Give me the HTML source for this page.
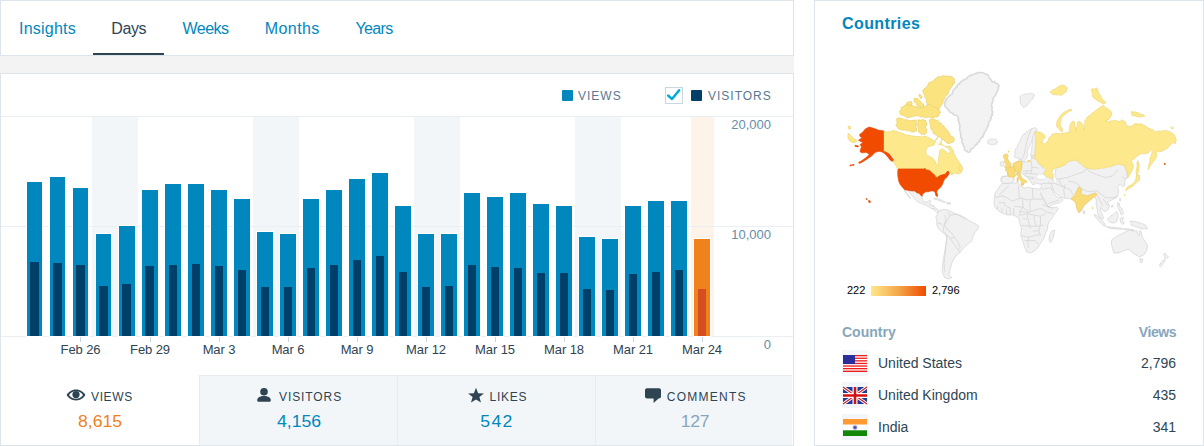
<!DOCTYPE html>
<html><head><meta charset="utf-8"><title>Stats</title>
<style>
*{box-sizing:border-box;margin:0;padding:0}
html,body{width:1204px;height:446px;overflow:hidden;background:#fff}
body{position:relative;font-family:"Liberation Sans",Arial,sans-serif;color:#2e4453}
.a{position:absolute}
.bd{position:absolute;border:1px solid #dde5eb}
.t{position:absolute;white-space:nowrap;line-height:16px}
.tab{font-size:16px;color:#0087be;transform:translateX(-50%)}
.lg{font-size:12px;letter-spacing:1.0px;color:#5a7890}
.xl{font-size:13px;color:#2e4453;letter-spacing:-0.1px;transform:translateX(-50%)}
.yl{font-size:13px;color:#668eaa;text-align:right;right:433px}
.bar{position:absolute;box-shadow:0 0 0 1px #fff}
.in{position:absolute}
.wk{position:absolute;top:117px;height:219px;background:#f3f6f8}
.gl{position:absolute;left:1px;width:792px;height:1px;background:#e9eff3}
.tick{position:absolute;top:337px;width:1px;height:5px;background:#c8d7e1}
.st{position:absolute;top:375px;height:70px;width:198px;background:#f3f6f8;border-left:1px solid #e6ecf0;border-top:1px solid #e6ecf0}
.sl{font-size:12px;letter-spacing:1.7px;color:#2e4453}
.sv{font-size:16px;transform:translateX(-50%) scaleX(1.1)}
.cn{font-size:14px;color:#2e4453}
.cv{font-size:14px;color:#2e4453;text-align:right;right:28px}
</style></head><body>
<div class="bd" style="left:0;top:0;width:794px;height:56px"></div>
<div class="a" style="left:93px;top:53px;width:71px;height:2px;background:#2e4453"></div>
<div class="t tab" style="left:47.51px;top:21px;letter-spacing:0.22px">Insights</div>
<div class="t tab" style="left:128.68px;top:21px;letter-spacing:-0.45px;color:#2e4453">Days</div>
<div class="t tab" style="left:205.55px;top:21px;letter-spacing:-0.5px">Weeks</div>
<div class="t tab" style="left:292.26px;top:21px;letter-spacing:0.42px">Months</div>
<div class="t tab" style="left:374.07px;top:21px;letter-spacing:-0.65px">Years</div>
<div class="a" style="left:0;top:56px;width:794px;height:17px;background:#f3f3f3"></div>
<div class="bd" style="left:0;top:73px;width:794px;height:373px"></div>
<div class="a" style="left:562px;top:90px;width:11px;height:11px;background:#0087be;border-radius:1px"></div>
<div class="t lg" style="left:578px;top:88px">VIEWS</div>
<div class="a" style="left:665px;top:87px;width:18px;height:17px;border:1px solid #c8d7e1;background:#fff"></div>
<svg class="a" style="left:665px;top:87px" width="18" height="17" viewBox="0 0 18 17"><path d="M3.2 8.6 L7 12 L14.2 3.2" fill="none" stroke="#00aadc" stroke-width="2.5" stroke-linecap="round" stroke-linejoin="round"/></svg>
<div class="a" style="left:691px;top:90px;width:11px;height:11px;background:#003f68;border-radius:1px"></div>
<div class="t lg" style="left:708px;top:88px">VISITORS</div>
<div class="wk" style="left:92px;width:23px"></div>
<div class="wk" style="left:115px;width:23px"></div>
<div class="wk" style="left:253px;width:23px"></div>
<div class="wk" style="left:276px;width:23px"></div>
<div class="wk" style="left:414px;width:23px"></div>
<div class="wk" style="left:437px;width:23px"></div>
<div class="wk" style="left:575px;width:23px"></div>
<div class="wk" style="left:598px;width:23px"></div>
<div class="wk" style="left:691px;width:23px;background:#fef3e9"></div>
<div class="gl" style="top:116px"></div>
<div class="gl" style="top:226px"></div>
<div class="gl" style="top:336px"></div>
<div class="bar" style="left:27px;top:182px;width:15px;height:154px;background:#0087be"></div><div class="in" style="left:30px;top:262px;width:9px;height:74px;background:#003f68"></div>
<div class="bar" style="left:50px;top:177px;width:15px;height:159px;background:#0087be"></div><div class="in" style="left:53px;top:263px;width:9px;height:73px;background:#003f68"></div>
<div class="bar" style="left:73px;top:188px;width:15px;height:148px;background:#0087be"></div><div class="in" style="left:76px;top:265px;width:9px;height:71px;background:#003f68"></div>
<div class="bar" style="left:96px;top:234px;width:15px;height:102px;background:#0087be"></div><div class="in" style="left:99px;top:286px;width:9px;height:50px;background:#003f68"></div>
<div class="bar" style="left:119px;top:226px;width:16px;height:110px;background:#0087be"></div><div class="in" style="left:122px;top:284px;width:9px;height:52px;background:#003f68"></div>
<div class="bar" style="left:142px;top:190px;width:16px;height:146px;background:#0087be"></div><div class="in" style="left:145px;top:266px;width:9px;height:70px;background:#003f68"></div>
<div class="bar" style="left:165px;top:184px;width:16px;height:152px;background:#0087be"></div><div class="in" style="left:169px;top:265px;width:8px;height:71px;background:#003f68"></div>
<div class="bar" style="left:188px;top:184px;width:16px;height:152px;background:#0087be"></div><div class="in" style="left:192px;top:264px;width:8px;height:72px;background:#003f68"></div>
<div class="bar" style="left:211px;top:190px;width:16px;height:146px;background:#0087be"></div><div class="in" style="left:215px;top:266px;width:8px;height:70px;background:#003f68"></div>
<div class="bar" style="left:234px;top:199px;width:16px;height:137px;background:#0087be"></div><div class="in" style="left:238px;top:270px;width:8px;height:66px;background:#003f68"></div>
<div class="bar" style="left:257px;top:232px;width:16px;height:104px;background:#0087be"></div><div class="in" style="left:261px;top:287px;width:8px;height:49px;background:#003f68"></div>
<div class="bar" style="left:280px;top:234px;width:16px;height:102px;background:#0087be"></div><div class="in" style="left:284px;top:287px;width:8px;height:49px;background:#003f68"></div>
<div class="bar" style="left:303px;top:199px;width:16px;height:137px;background:#0087be"></div><div class="in" style="left:307px;top:268px;width:8px;height:68px;background:#003f68"></div>
<div class="bar" style="left:326px;top:190px;width:16px;height:146px;background:#0087be"></div><div class="in" style="left:330px;top:265px;width:8px;height:71px;background:#003f68"></div>
<div class="bar" style="left:349px;top:179px;width:16px;height:157px;background:#0087be"></div><div class="in" style="left:353px;top:260px;width:8px;height:76px;background:#003f68"></div>
<div class="bar" style="left:372px;top:173px;width:16px;height:163px;background:#0087be"></div><div class="in" style="left:376px;top:256px;width:8px;height:80px;background:#003f68"></div>
<div class="bar" style="left:395px;top:206px;width:16px;height:130px;background:#0087be"></div><div class="in" style="left:399px;top:272px;width:8px;height:64px;background:#003f68"></div>
<div class="bar" style="left:418px;top:234px;width:16px;height:102px;background:#0087be"></div><div class="in" style="left:422px;top:287px;width:8px;height:49px;background:#003f68"></div>
<div class="bar" style="left:441px;top:234px;width:16px;height:102px;background:#0087be"></div><div class="in" style="left:445px;top:286px;width:8px;height:50px;background:#003f68"></div>
<div class="bar" style="left:464px;top:193px;width:16px;height:143px;background:#0087be"></div><div class="in" style="left:468px;top:265px;width:8px;height:71px;background:#003f68"></div>
<div class="bar" style="left:487px;top:197px;width:16px;height:139px;background:#0087be"></div><div class="in" style="left:491px;top:267px;width:8px;height:69px;background:#003f68"></div>
<div class="bar" style="left:510px;top:193px;width:16px;height:143px;background:#0087be"></div><div class="in" style="left:514px;top:268px;width:8px;height:68px;background:#003f68"></div>
<div class="bar" style="left:533px;top:204px;width:16px;height:132px;background:#0087be"></div><div class="in" style="left:537px;top:273px;width:8px;height:63px;background:#003f68"></div>
<div class="bar" style="left:556px;top:206px;width:16px;height:130px;background:#0087be"></div><div class="in" style="left:560px;top:273px;width:8px;height:63px;background:#003f68"></div>
<div class="bar" style="left:579px;top:237px;width:16px;height:99px;background:#0087be"></div><div class="in" style="left:583px;top:289px;width:8px;height:47px;background:#003f68"></div>
<div class="bar" style="left:602px;top:239px;width:16px;height:97px;background:#0087be"></div><div class="in" style="left:606px;top:290px;width:8px;height:46px;background:#003f68"></div>
<div class="bar" style="left:625px;top:206px;width:16px;height:130px;background:#0087be"></div><div class="in" style="left:629px;top:274px;width:8px;height:62px;background:#003f68"></div>
<div class="bar" style="left:648px;top:201px;width:16px;height:135px;background:#0087be"></div><div class="in" style="left:652px;top:272px;width:8px;height:64px;background:#003f68"></div>
<div class="bar" style="left:671px;top:201px;width:16px;height:135px;background:#0087be"></div><div class="in" style="left:675px;top:270px;width:8px;height:66px;background:#003f68"></div>
<div class="bar" style="left:694px;top:239px;width:16px;height:97px;background:#f0821e"></div><div class="in" style="left:698px;top:289px;width:8px;height:47px;background:#d54e21"></div>
<div class="t yl" style="top:117px">20,000</div>
<div class="t yl" style="top:227px">10,000</div>
<div class="t yl" style="top:337px">0</div>
<div class="tick" style="left:80px"></div><div class="t xl" style="left:80.5px;top:342px">Feb 26</div>
<div class="tick" style="left:150px"></div><div class="t xl" style="left:150px;top:342px">Feb 29</div>
<div class="tick" style="left:219px"></div><div class="t xl" style="left:219px;top:342px">Mar 3</div>
<div class="tick" style="left:288px"></div><div class="t xl" style="left:288px;top:342px">Mar 6</div>
<div class="tick" style="left:357px"></div><div class="t xl" style="left:357px;top:342px">Mar 9</div>
<div class="tick" style="left:426px"></div><div class="t xl" style="left:426px;top:342px">Mar 12</div>
<div class="tick" style="left:495px"></div><div class="t xl" style="left:495px;top:342px">Mar 15</div>
<div class="tick" style="left:564px"></div><div class="t xl" style="left:564px;top:342px">Mar 18</div>
<div class="tick" style="left:633px"></div><div class="t xl" style="left:633px;top:342px">Mar 21</div>
<div class="tick" style="left:702px"></div><div class="t xl" style="left:702px;top:342px">Mar 24</div>
<div class="st" style="left:199px;"></div>
<div class="st" style="left:397px;"></div>
<div class="st" style="left:595px;width:197px"></div>
<div class="t sl" style="left:91px;top:389px;letter-spacing:0.63px">VIEWS</div>
<div class="t sv" style="left:99.75px;top:413.5px;color:#f0821e">8,615</div>
<div class="t sl" style="left:279px;top:389px;letter-spacing:0.91px">VISITORS</div>
<div class="t sv" style="left:298.9px;top:413.5px;color:#0087be">4,156</div>
<div class="t sl" style="left:489.6px;top:389px;letter-spacing:0.7px">LIKES</div>
<div class="t sv" style="left:497.4px;top:413.5px;color:#0087be;letter-spacing:1.2px">542</div>
<div class="t sl" style="left:666.8px;top:389px;letter-spacing:1.24px">COMMENTS</div>
<div class="t sv" style="left:694.7px;top:413.5px;color:#87a6bc;letter-spacing:-0.3px">127</div>
<svg class="a" style="left:66px;top:389px" width="20" height="12" viewBox="0 0 20 12"><path d="M10 0.6C5.6 0.6 2.2 3.2 0.6 6C2.2 8.8 5.6 11.4 10 11.4S17.8 8.8 19.4 6C17.8 3.2 14.4 0.6 10 0.6Z" fill="#2e4453"/><path d="M10 2.2C6.9 2.2 4.4 3.9 3 6C4.4 8.1 6.9 9.8 10 9.8S15.6 8.1 17 6C15.6 3.9 13.1 2.2 10 2.2Z" fill="#fff"/><circle cx="10" cy="5.6" r="3.6" fill="#2e4453"/></svg>
<svg class="a" style="left:256px;top:387px" width="16" height="16" viewBox="0 0 16 16"><circle cx="8" cy="4.8" r="3.8" fill="#2e4453"/><path d="M1.2 13.2C1.2 10.6 4 9 8 9S14.8 10.6 14.8 13.2C14.8 14.2 14 14.7 13 14.7H3C2 14.7 1.2 14.2 1.2 13.2Z" fill="#2e4453"/></svg>
<svg class="a" style="left:467px;top:387px" width="18" height="17" viewBox="0 0 18 17"><path d="M9 0.8L11.1 6.2L16.9 6.4L12.4 10L14 15.6L9 12.4L4 15.6L5.6 10L1.1 6.4L6.9 6.2Z" fill="#2e4453"/></svg>
<svg class="a" style="left:644px;top:387px" width="18" height="17" viewBox="0 0 18 17"><path d="M3 1.2H15C16.1 1.2 17 2.1 17 3.2V9.6C17 10.7 16.1 11.6 15 11.6H14.6L9.6 16V11.6H3C1.9 11.6 1 10.7 1 9.6V3.2C1 2.1 1.9 1.2 3 1.2Z" fill="#2e4453"/></svg>
<div class="bd" style="left:814px;top:0;width:390px;height:446px"></div>
<div class="t" style="left:842px;top:16px;font-size:16px;font-weight:bold;color:#0087be;letter-spacing:0.4px">Countries</div>
<svg class="a" style="left:830px;top:60px" width="360" height="230" viewBox="830 60 360 230">
<polygon points="967.7,77.0 968.7,76.3 969.6,75.6 971.0,75.7 971.7,74.5 973.0,74.5 974.1,74.2 975.2,73.7 976.2,73.0 977.5,73.2 978.4,72.3 979.7,72.6 980.8,72.7 981.9,72.4 983.0,72.6 984.0,73.2 985.0,73.5 985.7,74.5 987.1,74.3 988.0,75.1 988.7,76.0 989.1,77.1 989.4,78.3 990.4,79.1 991.2,79.9 991.7,81.0 992.5,82.1 994.2,81.4 995.0,82.5 995.6,83.5 997.0,83.5 998.1,84.0 998.7,85.0 999.1,86.1 998.6,87.0 997.8,87.9 998.5,89.1 997.8,90.0 997.7,91.0 997.0,91.7 996.7,92.8 995.9,93.5 995.9,94.7 995.4,95.6 994.6,96.3 993.7,96.9 993.2,97.8 993.3,98.9 993.2,100.0 992.6,100.9 992.5,101.9 992.5,103.0 991.6,103.8 991.7,104.9 991.5,105.9 992.3,106.9 992.0,107.9 992.2,108.9 991.8,110.0 992.1,110.9 992.9,111.9 992.7,112.9 991.7,113.7 992.5,115.1 991.7,115.9 990.9,116.8 991.3,118.1 990.5,118.9 990.7,120.1 989.7,120.9 989.1,121.8 988.7,122.8 988.6,123.9 987.9,124.7 988.3,126.0 987.7,126.9 987.0,127.8 986.6,128.8 986.1,129.8 985.8,130.9 984.8,131.7 984.1,132.6 984.2,133.9 983.7,134.9 982.9,135.6 983.1,136.9 981.8,137.3 981.2,138.2 980.3,138.7 979.9,139.7 979.7,140.8 979.1,141.8 978.2,142.5 977.1,143.0 977.0,144.5 975.7,144.8 974.9,145.6 974.4,146.7 973.7,147.6 972.9,148.4 971.7,148.8 970.7,149.5 970.6,151.0 969.7,151.8 968.7,152.5 967.6,152.1 967.0,150.9 965.7,150.8 964.7,150.1 964.7,148.8 964.3,147.8 964.2,146.6 963.7,145.6 962.8,144.8 963.1,143.7 962.1,142.9 962.1,141.9 961.8,140.9 962.3,139.7 962.2,138.7 960.9,138.0 960.8,137.0 960.6,136.0 960.8,134.9 960.3,134.0 960.5,132.9 960.5,131.9 959.9,130.9 959.4,130.0 959.8,128.9 959.6,127.9 959.8,126.9 960.2,125.8 959.4,124.9 959.5,123.8 959.0,122.9 959.0,121.9 958.8,120.9 957.8,120.0 958.7,118.8 958.4,117.8 957.8,116.9 957.2,115.9 956.3,115.4 955.1,115.3 954.3,114.7 953.2,114.5 952.8,113.3 951.8,112.9 950.6,112.5 949.8,111.7 949.1,110.8 948.3,110.0 947.8,108.9 947.0,108.2 946.1,107.7 945.4,106.9 945.0,106.0 944.8,104.9 944.5,103.8 945.0,102.9 944.7,101.8 946.1,101.0 945.8,99.9 946.6,99.3 946.9,98.1 947.7,97.5 948.5,96.9 949.2,96.2 949.7,95.2 950.8,94.9 951.8,94.3 952.5,93.6 952.5,92.3 953.1,91.5 953.2,90.4 953.8,89.5 954.8,89.0 955.3,88.0 956.0,87.1 957.3,86.7 957.3,85.3 957.9,84.3 959.6,84.3 959.8,83.0 960.6,82.4 961.1,81.4 962.2,81.2 962.6,80.1 963.8,80.0 964.8,79.3 966.2,79.0 967.0,78.2" fill="#f3f3f3" stroke="#d9d9d9" stroke-width="1.5"/>
<polygon points="987.7,140.8 988.8,140.4 989.6,139.5 990.7,139.2 991.7,139.1 992.7,138.9 993.7,139.4 994.7,139.2 995.7,139.2 996.2,140.2 997.2,140.8 997.7,141.8 997.2,142.8 996.1,143.4 995.7,144.4 994.6,144.2 993.6,144.5 992.6,144.7 991.7,145.2 990.6,144.5 989.4,144.1 988.1,143.8 987.7,142.8 987.8,141.8" fill="#f1f1f1" stroke="#d3d3d3" stroke-width="0.7"/>
<polygon points="1019.6,96.9 1020.5,96.3 1021.4,95.5 1022.4,95.0 1023.5,94.7 1024.5,94.2 1025.6,93.9 1026.6,93.9 1027.7,94.0 1028.6,93.4 1029.7,93.6 1030.7,93.5 1031.6,92.9 1032.4,93.9 1033.7,94.1 1034.6,94.9 1034.2,96.0 1033.6,97.0 1033.0,98.0 1032.4,99.0 1031.6,99.9 1030.8,100.7 1030.0,101.3 1029.4,102.2 1028.9,103.2 1028.2,104.0 1027.6,104.9 1026.4,105.4 1025.8,106.7 1024.5,107.0 1023.6,107.9 1023.3,106.9 1022.6,106.1 1022.0,105.4 1021.2,104.7 1020.6,103.9 1020.2,102.9 1020.6,101.9 1020.0,100.9 1020.3,99.9 1020.3,98.8 1019.7,97.9" fill="#f1f1f1" stroke="#d3d3d3" stroke-width="0.7"/>
<polygon points="1019.1,159.3 1021.5,159.2 1021.8,161.3 1023.5,161.8 1026.5,162.2 1027.9,160.6 1030.6,160.5 1031.2,159.3 1031.9,155.9 1034.0,156.5 1036.0,156.0 1040.0,164.0 1045.0,171.0 1050.0,176.0 1054.0,179.0 1056.0,168.0 1064.0,163.0 1075.0,159.0 1090.0,165.0 1110.0,164.0 1122.0,162.0 1126.0,168.0 1127.7,177.5 1127.7,177.5 1125.5,179.5 1124.6,182.0 1124.6,185.8 1122.5,186.5 1120.5,184.0 1119.0,185.0 1117.6,187.0 1118.8,191.6 1117.6,195.1 1115.9,198.1 1113.0,199.2 1109.5,201.0 1107.7,202.1 1109.5,205.6 1108.3,209.1 1106.0,211.5 1103.6,210.9 1102.0,208.5 1100.5,207.5 1100.5,210.0 1101.5,213.0 1103.1,216.5 1103.5,218.4 1101.3,219.0 1099.0,216.1 1097.5,212.5 1097.2,209.0 1096.6,206.8 1096.1,203.0 1096.4,201.0 1095.5,197.5 1093.5,196.5 1091.7,195.5 1089.0,197.0 1087.7,201.9 1083.8,205.8 1080.8,210.8 1078.8,212.8 1076.8,207.8 1075.8,202.9 1072.8,199.9 1070.7,198.6 1068.7,198.6 1065.1,198.3 1062.2,197.5 1060.5,196.3 1058.7,195.3 1056.5,193.8 1054.5,192.3 1053.6,192.2 1053.8,193.3 1055.1,195.1 1056.5,196.5 1058.7,197.9 1060.1,197.2 1061.0,197.8 1062.2,198.8 1063.0,200.1 1061.5,201.5 1059.4,202.9 1056.5,203.7 1052.9,204.4 1049.3,206.5 1048.3,206.9 1047.4,205.2 1045.5,201.8 1043.5,198.2 1041.7,194.8 1041.0,192.8 1040.4,193.9 1042.2,197.6 1044.2,201.2 1046.3,204.7 1048.3,207.5 1052.0,207.3 1056.5,207.2 1058.6,208.5 1057.0,211.0 1055.6,212.5 1053.5,215.5 1052.3,218.0 1049.6,220.9 1047.8,224.9 1047.6,228.9 1045.6,232.9 1043.6,238.9 1040.6,242.9 1037.6,247.9 1034.6,250.9 1030.6,252.9 1026.6,251.9 1024.6,246.9 1022.6,240.9 1020.6,234.9 1021.6,228.9 1019.6,222.9 1018.6,218.0 1013.7,215.0 1007.7,215.0 1001.7,213.0 998.0,210.4 995.0,207.3 994.0,203.3 994.3,198.3 995.0,193.2 997.1,190.2 999.1,187.2 1001.1,184.6 1002.3,183.0 1008.2,182.6 1013.2,183.1 1018.3,182.6 1020.3,185.1 1024.3,188.2 1028.3,187.2 1032.4,188.2 1036.4,188.7 1040.5,189.2 1041.4,186.0 1041.5,184.3 1040.9,184.3 1037.0,183.5 1035.4,182.0 1034.6,184.3 1033.0,185.1 1031.5,182.8 1029.9,179.6 1028.5,178.5 1026.5,176.5 1024.5,174.8 1022.8,173.6 1021.5,172.8 1019.0,172.5 1016.5,174.5 1013.5,176.8 1013.9,179.9 1011.9,182.5 1003.9,183.6 1000.9,180.9 1001.2,177.5 1003.0,176.2 1007.5,175.8 1007.5,172.0 1005.1,169.7 1009.0,168.5 1013.5,165.5 1015.5,163.2 1017.5,162.5 1018.5,160.5" fill="#f1f1f1" stroke="#d3d3d3" stroke-width="0.7"/>
<polygon points="1014.4,155.9 1014.5,154.9 1015.1,154.0 1015.1,152.9 1015.1,151.9 1015.1,150.8 1015.4,149.8 1015.8,148.8 1016.4,147.9 1017.2,147.0 1017.6,146.0 1017.6,144.7 1018.4,143.8 1019.2,142.9 1019.8,142.0 1020.1,140.9 1020.5,139.8 1020.9,138.7 1021.5,137.8 1021.7,136.7 1022.5,135.8 1023.1,134.6 1024.6,134.3 1025.2,133.1 1026.1,132.5 1026.9,131.8 1027.9,131.4 1028.5,130.4 1029.6,129.7 1030.9,129.4 1031.9,128.4 1033.1,128.5 1034.1,127.7 1035.3,127.7 1036.5,128.5 1037.3,129.7 1036.5,131.5 1036.6,132.7 1036.5,133.8 1036.1,134.9 1036.3,136.1 1036.1,137.3 1035.9,138.4 1036.2,139.5 1035.5,140.7 1036.0,141.8 1035.9,142.9 1035.8,144.1 1035.9,145.2 1035.4,146.3 1035.8,147.4 1035.2,148.5 1035.5,149.7 1035.4,150.8 1035.3,151.9 1035.0,153.1 1035.3,154.4 1034.6,155.5 1033.9,156.4 1033.2,157.3 1031.8,156.9 1030.6,155.9 1030.3,154.8 1031.2,153.9 1030.8,152.9 1031.2,151.9 1031.3,150.8 1031.7,149.8 1031.7,148.7 1031.6,147.6 1031.9,146.5 1032.1,145.5 1032.3,144.5 1032.7,143.5 1032.6,142.5 1031.9,141.1 1031.6,142.6 1030.6,143.8 1030.0,144.8 1029.8,146.0 1029.2,147.0 1028.5,147.9 1028.0,148.9 1028.0,150.0 1027.7,151.1 1027.2,152.1 1027.2,153.2 1027.9,154.6 1027.2,155.5 1027.2,156.6 1026.8,157.6 1026.5,158.6 1025.8,159.4 1025.1,160.3 1024.3,161.0 1023.8,162.0 1022.9,161.4 1022.0,160.6 1021.1,160.0 1020.3,159.3 1019.5,158.5 1018.3,157.9 1017.0,158.0 1016.0,157.6 1015.0,157.5" fill="#f1f1f1" stroke="#d3d3d3" stroke-width="0.7"/>
<polygon points="1001.9,176.9 1009.9,175.9 1013.9,176.5 1013.9,179.9 1011.9,182.9 1003.9,183.6 1000.9,180.9" fill="#f1f1f1" stroke="#d3d3d3" stroke-width="0.7"/>
<polygon points="1000.4,162.1 1002.8,161.3 1004.1,162.9 1003.3,165.8 1000.8,166.2 1000.0,164.1" fill="#f1f1f1" stroke="#d3d3d3" stroke-width="0.7"/>
<polygon points="1051.8,230.9 1054.8,230.2 1053.8,235.9 1051.5,241.5 1050.3,242.6 1049.0,239.9 1049.8,235.0" fill="#f1f1f1" stroke="#d3d3d3" stroke-width="0.7"/>
<polygon points="1083.2,210.3 1084.8,211.2 1084.6,213.5 1083.2,213.4" fill="#f1f1f1" stroke="#d3d3d3" stroke-width="0.7"/>
<polygon points="1119.8,198.5 1120.8,198.7 1120.5,201.2 1119.5,200.7" fill="#f1f1f1" stroke="#d3d3d3" stroke-width="0.7"/>
<polygon points="1111.5,205.5 1113.0,205.3 1112.6,207.0 1111.4,206.8" fill="#f1f1f1" stroke="#d3d3d3" stroke-width="0.7"/>
<polygon points="1094.3,214.4 1097.8,216.1 1101.3,219.6 1104.2,223.1 1106.0,226.0 1104.2,226.0 1100.7,223.1 1097.2,219.0 1094.9,216.7" fill="#f1f1f1" stroke="#d3d3d3" stroke-width="0.7"/>
<polygon points="1106.5,226.6 1111.8,227.2 1117.6,227.8 1122.3,228.3 1122.3,229.2 1115.3,228.9 1108.3,228.0" fill="#f1f1f1" stroke="#d3d3d3" stroke-width="0.7"/>
<polygon points="1123.4,228.6 1128.0,229.0 1133.9,229.8 1133.5,230.6 1128.0,230.0 1123.4,229.6" fill="#f1f1f1" stroke="#d3d3d3" stroke-width="0.7"/>
<polygon points="1108.3,218.4 1110.6,216.1 1114.1,213.8 1116.5,211.5 1118.2,214.9 1117.6,218.4 1116.5,221.9 1113.0,223.1 1109.5,221.9 1107.7,220.2" fill="#f1f1f1" stroke="#d3d3d3" stroke-width="0.7"/>
<polygon points="1120.0,218.4 1123.4,217.3 1122.3,220.2 1124.6,223.1 1122.3,224.3 1120.5,221.9" fill="#f1f1f1" stroke="#d3d3d3" stroke-width="0.7"/>
<polygon points="1117.6,202.7 1119.4,203.3 1120.0,206.8 1122.3,209.1 1123.4,213.8 1121.1,214.9 1120.0,211.5 1118.2,208.0 1117.6,205.0" fill="#f1f1f1" stroke="#d3d3d3" stroke-width="0.7"/>
<polygon points="1129.7,221.0 1133.0,221.3 1137.7,222.3 1141.5,223.5 1145.6,225.0 1147.6,228.9 1144.5,228.6 1141.6,228.9 1138.5,227.5 1135.7,226.9 1133.0,225.5 1130.7,224.9 1131.8,223.2" fill="#f1f1f1" stroke="#d3d3d3" stroke-width="0.7"/>
<polygon points="1111.7,239.9 1115.7,236.9 1118.5,235.2 1121.7,233.9 1125.7,231.9 1129.7,229.9 1133.7,231.2 1136.7,230.4 1137.7,233.9 1139.6,235.9 1139.3,231.0 1140.6,230.6 1142.6,237.9 1145.6,241.9 1147.6,245.9 1146.6,250.9 1143.6,254.9 1139.6,256.9 1135.7,254.9 1132.7,252.9 1129.7,249.5 1126.7,249.5 1123.7,250.9 1117.7,252.9 1113.7,252.9 1112.7,248.9 1111.3,243.9" fill="#f1f1f1" stroke="#d3d3d3" stroke-width="0.7"/>
<polygon points="1139.8,258.8 1142.8,259.0 1142.1,262.5 1140.5,262.3" fill="#f1f1f1" stroke="#d3d3d3" stroke-width="0.7"/>
<polygon points="1163.6,254.5 1165.0,253.0 1166.5,255.5 1168.6,256.8 1166.5,258.5 1164.8,258.2 1164.6,256.5" fill="#f1f1f1" stroke="#d3d3d3" stroke-width="0.7"/>
<polygon points="1164.3,259.3 1165.3,260.0 1163.5,263.2 1160.6,266.9 1159.2,265.6 1161.6,261.8" fill="#f1f1f1" stroke="#d3d3d3" stroke-width="0.7"/>
<polygon points="908.1,190.8 910.1,190.7 914.8,191.0 916.8,192.7 919.5,193.4 920.8,195.4 922.2,196.1 922.5,198.8 923.2,200.8 924.9,202.1 926.9,202.1 928.2,201.1 929.6,200.1 930.9,200.8 930.3,202.8 929.6,204.2 931.6,205.2 933.6,205.5 934.3,206.8 935.6,208.2 937.7,209.5 939.7,210.9 941.7,211.6 943.4,210.0 944.0,211.5 941.5,213.6 940.3,214.2 938.3,212.9 936.3,211.6 934.3,210.2 932.3,208.9 929.6,207.5 927.6,206.2 924.9,204.8 921.5,203.5 918.2,202.1 915.5,200.1 913.4,197.4 910.8,194.1 908.1,191.4" fill="#f1f1f1" stroke="#d3d3d3" stroke-width="0.7"/>
<polygon points="904.7,190.0 906.7,192.7 908.7,195.4 910.8,198.1 910.1,198.6 908.1,196.1 906.1,193.4 904.7,191.0" fill="#f1f1f1" stroke="#d3d3d3" stroke-width="0.7"/>
<polygon points="933.6,198.6 935.6,198.0 938.3,198.6 941.0,199.9 943.7,201.3 945.5,202.2 943.5,202.3 940.5,201.0 937.5,199.9 934.5,199.5" fill="#f1f1f1" stroke="#d3d3d3" stroke-width="0.7"/>
<polygon points="946.8,202.5 950.5,202.8 950.2,204.2 947.0,204.0" fill="#f1f1f1" stroke="#d3d3d3" stroke-width="0.7"/>
<polygon points="937.8,212.0 941.8,210.0 944.5,209.5 947.8,210.0 950.8,211.5 953.8,213.0 959.8,215.0 963.8,217.0 969.7,221.0 975.7,223.9 978.7,225.9 977.7,228.9 974.7,232.9 972.7,236.9 971.7,240.9 967.7,243.9 964.8,246.9 961.8,249.9 959.8,252.9 956.8,254.9 953.8,258.9 951.8,262.9 950.8,266.9 949.8,270.8 948.8,274.8 951.8,277.8 948.8,278.8 944.8,277.8 942.8,273.8 942.2,268.9 942.8,262.9 943.8,256.9 944.8,250.9 945.8,244.9 946.8,238.9 945.8,234.9 941.8,231.9 938.8,228.9 936.8,224.9 936.8,220.9 935.8,217.0 937.4,214.3" fill="#f1f1f1" stroke="#d3d3d3" stroke-width="0.7"/>
<polyline points="1009.0,185.6 1005.0,189.0 1002.8,191.9 999.2,194.6" fill="none" stroke="#d6d6d6" stroke-width="0.8"/>
<polyline points="994.7,197.3 1000.0,196.5 1003.7,195.5 1004.6,198.2" fill="none" stroke="#d6d6d6" stroke-width="0.8"/>
<polyline points="1004.6,196.4 1008.0,198.5 1012.6,201.3 1017.1,199.1 1021.6,198.2" fill="none" stroke="#d6d6d6" stroke-width="0.8"/>
<polyline points="1018.0,185.6 1018.9,191.0 1018.9,196.4 1021.6,198.2" fill="none" stroke="#d6d6d6" stroke-width="0.8"/>
<polyline points="1032.4,188.3 1032.6,194.0 1032.8,199.1" fill="none" stroke="#d6d6d6" stroke-width="0.8"/>
<polyline points="1021.6,198.2 1027.0,200.0 1032.4,199.1" fill="none" stroke="#d6d6d6" stroke-width="0.8"/>
<polyline points="1032.8,199.1 1038.0,199.1 1043.2,199.1" fill="none" stroke="#d6d6d6" stroke-width="0.8"/>
<polyline points="1014.4,206.2 1018.5,206.8 1022.5,207.1" fill="none" stroke="#d6d6d6" stroke-width="0.8"/>
<polyline points="1022.5,198.2 1022.8,203.0 1023.4,208.0 1026.5,210.0 1029.7,211.6" fill="none" stroke="#d6d6d6" stroke-width="0.8"/>
<polyline points="1030.6,200.0 1030.0,203.0 1029.7,206.2 1030.6,211.6" fill="none" stroke="#d6d6d6" stroke-width="0.8"/>
<polyline points="1030.6,211.6 1034.5,210.2 1038.7,208.9 1042.3,208.9" fill="none" stroke="#d6d6d6" stroke-width="0.8"/>
<polyline points="1042.3,204.4 1046.0,206.0 1050.0,207.0 1053.0,209.0" fill="none" stroke="#d6d6d6" stroke-width="0.8"/>
<polyline points="1042.3,208.9 1045.0,211.0 1048.0,212.5 1053.0,213.4" fill="none" stroke="#d6d6d6" stroke-width="0.8"/>
<polyline points="998.3,202.6 1001.5,202.6 1004.6,202.6 1004.6,205.3 1007.5,206.8 1010.0,208.0" fill="none" stroke="#d6d6d6" stroke-width="0.8"/>
<polyline points="997.4,206.2 997.5,209.5" fill="none" stroke="#d6d6d6" stroke-width="0.8"/>
<polyline points="1001.9,208.0 1002.0,212.5" fill="none" stroke="#d6d6d6" stroke-width="0.8"/>
<polyline points="1006.4,208.9 1006.6,214.8" fill="none" stroke="#d6d6d6" stroke-width="0.8"/>
<polyline points="1010.0,208.0 1010.2,214.8" fill="none" stroke="#d6d6d6" stroke-width="0.8"/>
<polyline points="1013.5,208.0 1013.7,214.8" fill="none" stroke="#d6d6d6" stroke-width="0.8"/>
<polyline points="1018.9,211.6 1024.0,212.0 1029.7,212.5" fill="none" stroke="#d6d6d6" stroke-width="0.8"/>
<polyline points="1022.5,207.1 1020.5,212.0 1018.9,216.1" fill="none" stroke="#d6d6d6" stroke-width="0.8"/>
<polyline points="1020.3,215.3 1027.0,213.7 1035.4,215.3 1040.5,216.2 1045.5,213.7" fill="none" stroke="#d6d6d6" stroke-width="0.8"/>
<polyline points="1027.0,213.7 1028.7,222.1 1030.4,228.8" fill="none" stroke="#d6d6d6" stroke-width="0.8"/>
<polyline points="1021.5,225.4 1029.0,226.0 1037.1,226.3 1043.5,225.0" fill="none" stroke="#d6d6d6" stroke-width="0.8"/>
<polyline points="1040.5,216.2 1040.5,223.7 1038.8,230.5 1040.5,236.0" fill="none" stroke="#d6d6d6" stroke-width="0.8"/>
<polyline points="1021.5,235.5 1028.7,237.2 1035.4,235.5 1040.5,233.8" fill="none" stroke="#d6d6d6" stroke-width="0.8"/>
<polyline points="1024.5,240.6 1030.0,240.6 1035.4,240.6 1038.0,244.0" fill="none" stroke="#d6d6d6" stroke-width="0.8"/>
<polyline points="1028.7,237.2 1027.9,243.9 1028.5,248.0" fill="none" stroke="#d6d6d6" stroke-width="0.8"/>
<polyline points="1034.0,215.3 1034.5,221.0 1036.0,226.3" fill="none" stroke="#d6d6d6" stroke-width="0.8"/>
<polyline points="1023.0,218.5 1027.5,219.0" fill="none" stroke="#d6d6d6" stroke-width="0.8"/>
<polyline points="1033.0,231.0 1038.8,230.5" fill="none" stroke="#d6d6d6" stroke-width="0.8"/>
<polyline points="1042.2,189.3 1046.0,188.5 1050.8,187.9 1052.9,191.5" fill="none" stroke="#d6d6d6" stroke-width="0.8"/>
<polyline points="1050.8,182.9 1052.0,186.0 1053.0,189.0 1054.4,191.5" fill="none" stroke="#d6d6d6" stroke-width="0.8"/>
<polyline points="1041.5,183.6 1045.0,183.5 1049.3,182.9" fill="none" stroke="#d6d6d6" stroke-width="0.8"/>
<polyline points="1065.1,184.3 1063.7,190.8 1065.1,197.9" fill="none" stroke="#d6d6d6" stroke-width="0.8"/>
<polyline points="1047.9,203.7 1051.0,202.5 1054.4,201.5 1059.4,200.1" fill="none" stroke="#d6d6d6" stroke-width="0.8"/>
<polyline points="1031.5,161.0 1031.7,165.0 1031.9,170.4" fill="none" stroke="#d6d6d6" stroke-width="0.8"/>
<polyline points="1022.5,171.2 1026.0,171.0 1031.9,170.4" fill="none" stroke="#d6d6d6" stroke-width="0.8"/>
<polyline points="1030.7,157.9 1033.0,158.2 1035.4,158.6" fill="none" stroke="#d6d6d6" stroke-width="0.8"/>
<polyline points="1031.2,155.5 1034.0,155.8" fill="none" stroke="#d6d6d6" stroke-width="0.8"/>
<polyline points="1031.9,167.3 1035.0,167.5 1038.6,168.1" fill="none" stroke="#d6d6d6" stroke-width="0.8"/>
<polyline points="1031.9,170.4 1031.0,172.0 1030.7,173.6 1034.0,173.8 1037.8,174.4" fill="none" stroke="#d6d6d6" stroke-width="0.8"/>
<polyline points="1022.3,173.6 1026.0,173.6 1030.7,173.6" fill="none" stroke="#d6d6d6" stroke-width="0.8"/>
<polyline points="1024.4,175.9 1028.0,176.5 1030.0,177.0 1033.9,177.5" fill="none" stroke="#d6d6d6" stroke-width="0.8"/>
<polyline points="1026.8,171.2 1027.0,173.6" fill="none" stroke="#d6d6d6" stroke-width="0.8"/>
<polyline points="1029.5,179.6 1031.5,178.3 1034.5,179.2" fill="none" stroke="#d6d6d6" stroke-width="0.8"/>
<polyline points="1028.5,177.8 1029.2,179.5" fill="none" stroke="#d6d6d6" stroke-width="0.8"/>
<polyline points="1031.9,128.4 1028.5,135.8 1026.5,142.5 1025.2,149.2 1023.8,155.9 1021.1,160.0" fill="none" stroke="#d6d6d6" stroke-width="0.8"/>
<polyline points="1031.9,141.1 1033.0,136.0 1035.3,131.0" fill="none" stroke="#d6d6d6" stroke-width="0.8"/>
<polyline points="1051.5,180.2 1059.6,178.8 1067.7,177.5 1074.4,174.8 1078.5,173.5 1083.8,172.1 1086.5,168.1" fill="none" stroke="#d6d6d6" stroke-width="0.8"/>
<polyline points="1089.2,171.4 1097.3,174.8 1105.4,177.5 1112.1,176.2 1116.1,172.1 1117.5,169.4" fill="none" stroke="#d6d6d6" stroke-width="0.8"/>
<polyline points="1063.6,186.9 1070.4,189.6 1073.1,195.0" fill="none" stroke="#d6d6d6" stroke-width="0.8"/>
<polyline points="1047.5,182.9 1055.0,183.5 1063.6,186.9" fill="none" stroke="#d6d6d6" stroke-width="0.8"/>
<polyline points="1059.6,178.8 1060.0,183.0 1063.6,186.9" fill="none" stroke="#d6d6d6" stroke-width="0.8"/>
<polyline points="1068.0,181.0 1074.0,182.0 1078.0,184.0 1081.1,188.9" fill="none" stroke="#d6d6d6" stroke-width="0.8"/>
<polyline points="1081.1,188.9 1088.0,191.5 1097.3,191.0" fill="none" stroke="#d6d6d6" stroke-width="0.8"/>
<polyline points="1097.3,191.0 1101.0,194.0 1105.4,197.7 1113.4,197.7 1118.0,196.0" fill="none" stroke="#d6d6d6" stroke-width="0.8"/>
<polyline points="1097.3,195.0 1100.0,200.4 1102.7,205.8" fill="none" stroke="#d6d6d6" stroke-width="0.8"/>
<polyline points="1103.0,199.0 1106.0,203.0 1108.0,206.0" fill="none" stroke="#d6d6d6" stroke-width="0.8"/>
<polyline points="1086.5,168.1 1089.2,171.4" fill="none" stroke="#d6d6d6" stroke-width="0.8"/>
<polyline points="1121.5,176.0 1124.5,178.5 1127.5,177.5" fill="none" stroke="#d6d6d6" stroke-width="0.8"/>
<polyline points="944.1,225.2 948.1,219.2 950.2,215.2 956.2,214.2 962.3,217.2 965.3,219.2" fill="none" stroke="#d6d6d6" stroke-width="0.8"/>
<polyline points="944.1,225.2 948.1,230.3 952.2,233.3 954.2,237.3 958.2,242.4 960.2,247.4 958.2,249.4" fill="none" stroke="#d6d6d6" stroke-width="0.8"/>
<polyline points="944.1,225.2 943.1,231.3 947.1,235.3 950.2,238.3 954.2,237.3" fill="none" stroke="#d6d6d6" stroke-width="0.8"/>
<polyline points="947.1,235.3 946.1,243.4 945.1,253.5 944.1,263.5 944.5,271.6" fill="none" stroke="#d6d6d6" stroke-width="0.8"/>
<polyline points="950.2,238.3 954.2,244.4 958.2,249.4 960.2,252.5" fill="none" stroke="#d6d6d6" stroke-width="0.8"/>
<polyline points="945.1,215.2 946.1,219.2 944.1,225.2" fill="none" stroke="#d6d6d6" stroke-width="0.8"/>
<polyline points="938.1,223.2 942.1,224.2" fill="none" stroke="#d6d6d6" stroke-width="0.8"/>
<polyline points="948.0,212.0 950.2,215.2" fill="none" stroke="#d6d6d6" stroke-width="0.8"/>
<polyline points="930.5,205.5 933.0,206.0" fill="none" stroke="#d6d6d6" stroke-width="0.8"/>
<polyline points="932.5,208.3 935.0,208.8" fill="none" stroke="#d6d6d6" stroke-width="0.8"/>
<polygon points="1035.3,131.1 1036.2,131.7 1037.3,131.7 1038.2,132.3 1039.3,131.8 1040.3,132.3 1041.3,132.4 1042.0,133.4 1042.9,134.0 1044.0,134.4 1044.9,135.6 1045.3,137.1 1044.7,138.2 1043.6,138.9 1042.7,139.8 1042.6,140.9 1042.0,141.7 1041.3,142.5 1042.4,142.5 1043.3,143.3 1044.2,143.7 1045.3,143.8 1046.5,143.2 1046.9,141.8 1048.0,141.1 1048.5,140.2 1048.8,139.1 1048.7,138.0 1049.4,137.1 1050.5,136.4 1051.5,135.6 1052.1,134.4 1053.0,133.8 1054.2,134.1 1055.1,133.3 1056.1,133.1 1057.4,133.4 1058.6,133.7 1059.7,134.0 1060.8,133.8 1061.8,133.1 1062.9,133.2 1064.0,133.2 1065.1,133.0 1066.1,132.7 1067.2,132.4 1068.3,132.3 1069.4,132.3 1069.7,131.2 1069.1,130.1 1069.7,129.1 1069.7,128.0 1069.8,126.9 1069.7,125.6 1070.4,124.6 1071.0,123.6 1071.2,122.4 1072.1,121.8 1073.0,121.1 1074.1,121.4 1074.7,122.4 1074.4,123.6 1074.7,124.7 1074.7,125.8 1075.2,126.9 1075.7,128.0 1075.6,129.1 1075.9,130.2 1075.6,131.4 1076.2,130.3 1076.1,129.1 1076.3,127.9 1077.0,126.9 1077.0,125.8 1077.6,124.7 1077.6,123.6 1077.4,122.4 1078.2,121.8 1079.2,121.5 1080.3,121.8 1080.8,123.0 1081.9,123.3 1082.3,124.2 1082.6,125.2 1083.6,125.8 1083.7,126.9 1084.4,128.0 1084.1,129.3 1084.6,130.5 1084.5,129.5 1084.2,128.4 1085.0,127.4 1084.7,126.4 1084.9,125.4 1084.2,124.3 1084.6,123.3 1085.2,122.2 1084.8,120.8 1085.5,119.7 1086.4,119.0 1086.7,117.9 1087.3,117.1 1088.1,116.3 1089.1,115.8 1090.2,115.4 1090.9,114.4 1091.7,113.6 1092.5,112.8 1093.6,112.4 1094.5,111.7 1095.3,110.8 1096.1,110.1 1097.0,109.4 1098.1,109.0 1098.8,108.0 1099.7,107.4 1100.7,106.8 1101.7,106.3 1102.7,105.7 1103.9,105.4 1104.4,106.4 1105.3,107.2 1106.3,107.7 1107.1,108.6 1108.2,109.0 1108.9,109.9 1109.9,110.7 1111.0,111.4 1111.6,112.6 1111.6,113.8 1111.6,114.9 1110.7,115.9 1110.7,117.1 1109.8,117.9 1109.1,119.0 1108.0,119.7 1107.1,120.3 1106.0,120.6 1105.3,121.5 1106.5,121.1 1107.7,121.8 1108.9,121.5 1110.1,121.1 1111.3,120.9 1112.5,120.6 1113.7,120.9 1114.8,120.5 1116.0,120.6 1117.2,120.9 1118.4,121.4 1119.6,121.5 1120.7,121.3 1121.3,120.2 1122.3,119.7 1123.2,120.6 1124.3,121.3 1125.4,121.8 1125.6,123.0 1126.1,124.1 1126.5,125.3 1126.7,126.5 1127.7,126.1 1128.8,126.2 1129.8,126.1 1130.8,126.5 1131.9,126.0 1132.7,125.0 1133.6,124.2 1134.8,123.8 1135.9,123.4 1137.0,124.1 1138.0,124.1 1139.1,124.0 1140.2,123.8 1141.3,124.0 1142.3,124.3 1143.3,124.7 1144.2,125.2 1145.2,125.8 1146.4,126.3 1147.2,127.2 1148.2,127.9 1149.3,128.0 1150.1,128.9 1151.1,129.3 1152.3,129.2 1153.2,130.1 1154.3,130.8 1155.0,131.9 1156.1,132.2 1157.1,131.5 1158.2,131.4 1159.2,130.9 1160.3,131.2 1161.4,131.0 1162.5,130.9 1163.5,130.8 1164.6,130.5 1165.7,130.6 1166.7,130.9 1167.9,130.8 1168.8,131.4 1169.8,131.9 1171.0,132.3 1171.9,133.2 1173.0,133.6 1173.8,134.6 1174.6,135.3 1174.9,136.3 1175.4,137.2 1175.5,138.2 1176.0,139.1 1176.5,140.0 1175.9,140.9 1175.7,142.0 1175.3,142.9 1175.1,144.0 1174.0,143.0 1172.5,142.7 1171.7,143.7 1170.9,144.6 1170.0,145.4 1168.9,146.0 1168.4,147.2 1167.7,148.1 1166.5,148.4 1165.6,149.1 1164.8,149.9 1163.8,150.8 1162.3,150.8 1161.2,151.6 1160.0,151.2 1158.8,151.5 1157.6,151.6 1156.3,152.5 1156.2,153.7 1156.3,154.9 1156.7,156.1 1156.5,157.1 1155.8,157.9 1155.3,158.8 1154.9,159.7 1154.0,160.4 1153.4,161.3 1152.7,162.2 1152.3,163.3 1151.6,164.2 1150.7,164.9 1150.1,165.9 1149.6,166.9 1149.0,167.7 1148.9,168.8 1148.2,169.6 1148.0,168.2 1148.7,166.9 1148.6,165.7 1149.0,164.6 1149.0,163.5 1149.6,162.4 1150.0,161.3 1149.9,160.2 1150.0,159.0 1150.0,157.9 1150.6,156.7 1151.1,155.6 1151.4,154.3 1152.0,153.1 1152.2,151.8 1153.2,150.8 1152.3,149.9 1151.3,150.1 1150.5,150.8 1149.4,151.5 1148.7,152.5 1147.8,153.0 1146.9,153.4 1146.0,153.9 1144.8,153.6 1143.5,154.0 1142.4,153.4 1141.1,153.5 1140.1,154.2 1138.8,154.3 1138.2,155.5 1137.1,156.2 1136.1,157.0 1135.1,157.6 1134.5,158.7 1133.4,159.3 1132.4,159.8 1131.6,160.6 1131.6,162.1 1132.5,163.3 1133.0,164.6 1133.4,166.0 1133.2,167.2 1132.8,168.4 1132.5,169.6 1131.8,170.7 1131.1,171.9 1130.8,173.2 1130.1,174.0 1129.5,174.9 1129.0,175.8 1128.7,176.9 1127.7,177.6 1127.3,176.5 1127.2,175.4 1127.5,174.2 1127.0,173.1 1127.1,171.9 1126.9,170.8 1126.1,170.1 1125.6,169.2 1125.4,168.2 1125.2,167.1 1124.8,166.2 1124.2,165.4 1123.0,165.0 1121.7,164.9 1120.6,164.9 1119.6,164.4 1118.5,164.3 1117.5,164.0 1116.6,164.4 1115.7,165.1 1114.5,164.8 1113.8,165.8 1112.6,165.5 1111.6,166.0 1110.8,166.7 1109.9,167.3 1108.8,167.1 1107.7,166.9 1106.7,167.0 1105.7,167.6 1104.8,168.0 1103.8,168.2 1102.7,168.1 1101.6,167.8 1100.6,168.6 1099.6,168.5 1098.6,169.0 1097.5,168.8 1096.4,168.6 1095.4,169.4 1094.3,169.0 1093.3,169.4 1092.2,169.2 1091.1,168.6 1089.9,168.6 1088.7,168.8 1087.7,168.0 1086.5,168.1 1085.6,167.4 1084.4,167.1 1083.5,166.4 1082.9,165.4 1082.0,164.7 1081.1,164.0 1080.1,163.5 1079.1,162.9 1078.4,162.1 1077.5,161.5 1076.9,160.4 1075.8,160.0 1074.8,160.7 1073.5,160.2 1072.3,160.4 1071.3,161.2 1070.1,160.7 1069.0,161.3 1068.1,161.8 1067.2,162.4 1066.8,163.5 1066.0,164.1 1065.2,164.7 1064.2,165.3 1062.9,165.4 1062.1,166.3 1061.0,166.5 1060.0,167.0 1058.9,167.1 1057.6,167.4 1056.3,167.8 1055.0,167.8 1054.1,168.9 1052.7,169.4 1052.6,170.7 1051.9,171.8 1052.0,173.0 1052.7,174.1 1053.1,175.1 1052.8,176.3 1053.4,177.3 1052.7,178.8 1051.4,178.6 1050.3,178.0 1049.2,177.7 1048.2,177.0 1047.2,176.5 1046.0,176.2 1045.0,175.5 1044.0,174.9 1043.2,173.3 1044.2,172.8 1044.8,172.0 1045.2,171.0 1045.7,169.8 1045.6,168.6 1044.5,167.8 1043.2,167.1 1042.3,166.0 1040.9,165.5 1040.2,164.4 1039.1,163.9 1038.1,163.1 1037.3,161.3 1036.8,160.2 1035.6,159.5 1035.4,158.2 1034.6,157.3 1034.7,156.2 1035.1,155.2 1035.1,154.1 1035.0,153.0 1035.3,151.9 1035.0,150.7 1035.9,149.7 1035.3,148.5 1035.7,147.4 1035.7,146.3 1035.9,145.2 1035.7,144.1 1036.1,142.9 1036.3,141.8 1035.7,140.7 1036.0,139.5 1035.9,138.4 1035.6,137.4 1035.8,136.3 1035.5,135.3 1035.3,134.3 1035.2,133.2 1035.1,132.2" fill="#fde98b" stroke="#ecd577" stroke-width="0.7"/>
<polygon points="1027.8,160.3 1030.3,160.6 1030.1,161.8 1027.8,161.7" fill="#fde98b" stroke="#ecd577" stroke-width="0.7"/>
<polygon points="1137.9,160.6 1139.3,165.1 1138.8,169.6 1137.9,174.1 1136.6,175.8 1136.1,171.4 1137.0,166.9 1137.0,162.4" fill="#fde98b" stroke="#ecd577" stroke-width="0.7"/>
<polygon points="1049.8,91.9 1050.9,91.6 1051.6,90.7 1052.4,89.9 1053.5,89.5 1054.8,89.2 1055.9,88.6 1056.7,87.6 1057.8,87.0 1058.7,86.3 1059.7,85.9 1060.7,85.5 1061.7,85.3 1062.8,85.0 1064.0,85.3 1064.9,86.0 1065.9,86.6 1066.8,87.5 1067.8,88.0 1067.0,88.8 1066.6,89.8 1066.4,91.0 1065.8,91.9 1065.0,92.6 1064.2,93.1 1063.5,93.8 1062.7,94.4 1061.8,94.9 1060.8,95.3 1059.8,95.1 1058.8,94.5 1057.8,95.2 1056.8,94.9 1055.8,94.8 1054.8,94.6 1053.8,94.9 1052.8,94.5 1052.1,93.9 1051.3,93.3 1050.5,92.6" fill="#fde98b" stroke="#ecd577" stroke-width="0.7"/>
<polygon points="1091.7,89.0 1092.7,88.8 1093.8,89.0 1094.8,88.7 1095.8,88.5 1096.7,88.0 1097.5,88.8 1097.9,89.8 1097.8,91.1 1098.1,92.1 1098.9,93.0 1099.2,94.0 1099.7,95.0 1100.7,95.6 1101.1,96.7 1101.4,97.9 1102.1,98.7 1102.8,99.6 1103.4,100.5 1104.5,101.0 1105.3,101.8 1105.7,102.9 1104.8,103.5 1103.7,103.5 1102.7,103.9 1101.8,103.2 1100.9,102.4 1099.8,101.9 1098.8,101.4 1097.7,100.9 1097.0,100.0 1096.0,99.6 1095.2,98.9 1094.1,98.6 1093.7,97.4 1092.7,96.9 1092.3,95.8 1092.8,94.6 1092.4,93.5 1092.0,92.4 1091.7,91.3 1091.6,90.2" fill="#fde98b" stroke="#ecd577" stroke-width="0.7"/>
<polygon points="1071.2,109.0 1069.8,109.3 1068.5,109.9 1067.5,110.2 1066.9,111.1 1066.0,111.6 1064.9,111.7 1064.0,112.4 1063.1,113.0 1062.3,113.8 1061.3,114.4 1060.8,115.4 1059.9,116.1 1059.6,117.4 1058.6,118.0 1058.3,119.2 1057.7,120.2 1056.9,121.1 1056.8,122.4 1056.7,123.5 1056.5,124.7 1056.8,125.8 1056.8,126.9 1057.9,127.6 1058.8,128.5 1059.5,129.6 1060.1,130.6 1061.0,131.2 1062.0,131.8 1062.4,130.6 1063.1,129.6 1062.1,129.0 1061.7,127.8 1061.2,126.8 1060.4,126.0 1060.3,124.9 1060.2,123.8 1060.6,122.6 1060.4,121.5 1061.2,120.5 1061.1,119.2 1061.4,118.0 1062.2,117.1 1062.8,116.3 1063.6,115.6 1064.5,115.1 1064.9,114.0 1065.8,113.5 1066.9,113.1 1067.8,112.5 1068.7,111.7 1069.5,110.9 1070.9,110.9 1071.6,109.9" fill="#fde98b" stroke="#ecd577" stroke-width="0.7"/>
<polygon points="1131.4,111.7 1132.4,111.6 1133.4,112.2 1134.5,111.8 1135.5,111.9 1136.5,112.5 1137.5,112.4 1138.6,112.7 1139.3,113.8 1140.5,113.9 1141.5,114.4 1142.7,114.6 1143.9,115.1 1144.9,115.8 1143.8,116.3 1142.6,116.5 1141.5,117.1 1140.5,116.6 1139.3,117.1 1138.2,116.8 1137.1,116.8 1136.1,116.4 1135.2,115.7 1134.0,116.1 1133.0,115.8 1132.1,115.1 1131.5,114.0 1131.5,112.9" fill="#fde98b" stroke="#ecd577" stroke-width="0.7"/>
<polygon points="1170.4,126.5 1171.4,127.3 1172.5,127.8 1173.8,127.9 1172.7,128.3 1171.8,129.0 1171.5,127.5" fill="#fde98b" stroke="#ecd577" stroke-width="0.7"/>
<polygon points="848.0,133.1 851.1,136.1 854.1,138.7 857.1,140.7 855.6,142.2 852.6,142.7 849.5,140.7 848.0,138.1" fill="#fde98b" stroke="#ecd577" stroke-width="0.7"/>
<polygon points="848.2,126.2 850.8,126.8 850.6,129.0 848.4,128.8" fill="#fde98b" stroke="#ecd577" stroke-width="0.7"/>
<polygon points="1136.3,176.0 1139.4,175.0 1139.6,179.9 1136.8,182.3 1133.9,185.2 1130.4,187.6 1127.5,189.3 1125.8,191.1 1126.4,188.2 1128.1,186.4 1131.6,184.7 1134.5,182.3 1135.7,179.9" fill="#fde98b" stroke="#ecd577" stroke-width="0.7"/>
<polygon points="1124.3,194.6 1125.2,194.8 1124.8,195.8" fill="#fde98b" stroke="#ecd577" stroke-width="0.7"/>
<polygon points="1092.3,207.2 1093.0,207.4 1093.0,209.0 1092.3,208.8" fill="#fde98b" stroke="#ecd577" stroke-width="0.7"/>
<polygon points="1078.8,186.9 1081.8,188.9 1080.8,193.9 1084.0,195.0 1087.7,195.9 1091.7,193.9 1095.7,192.9 1096.7,194.9 1092.7,197.9 1090.7,199.9 1087.7,201.9 1083.8,205.8 1080.8,210.8 1078.8,212.8 1076.8,207.8 1075.8,202.9 1072.8,199.9 1070.8,198.9 1074.8,194.9 1076.8,190.9" fill="#f9dc78" stroke="#e9c860" stroke-width="0.7"/>
<polygon points="1003.3,155.3 1005.7,154.0 1007.7,154.4 1008.1,156.5 1007.3,158.1 1008.5,160.5 1010.1,162.9 1011.3,165.4 1010.1,167.0 1007.7,167.4 1005.3,167.8 1004.5,166.6 1006.1,165.0 1005.7,163.3 1004.5,162.1 1004.9,159.7 1003.7,157.7" fill="#f9dc78" stroke="#e9c860" stroke-width="0.7"/>
<polygon points="1008.2,151.2 1009.0,151.3 1008.9,152.2 1008.2,152.1" fill="#f9dc78" stroke="#e9c860" stroke-width="0.7"/>
<polygon points="1005.3,169.0 1007.7,168.2 1010.9,167.4 1013.8,166.2 1015.0,167.8 1015.4,171.0 1014.6,173.4 1015.4,175.9 1014.2,177.1 1010.9,177.1 1008.5,176.7 1008.1,174.2 1007.3,171.8 1005.7,170.2" fill="#f9dc78" stroke="#e9c860" stroke-width="0.7"/>
<polygon points="1012.9,163.7 1015.8,162.1 1018.2,161.3 1021.4,161.3 1022.2,163.7 1021.8,167.0 1021.4,170.2 1019.8,172.2 1017.0,172.2 1015.4,170.6 1015.0,167.8 1013.8,166.2" fill="#f9dc78" stroke="#e9c860" stroke-width="0.7"/>
<polygon points="1016.6,173.4 1019.0,173.0 1021.0,174.2 1020.6,175.9 1022.2,178.3 1024.7,179.9 1026.7,181.1 1026.3,182.3 1024.3,183.1 1022.2,183.9 1021.0,183.1 1021.4,181.5 1019.8,179.1 1018.2,176.7 1017.0,175.1" fill="#f9dc78" stroke="#e9c860" stroke-width="0.7"/>
<polygon points="1017.0,177.9 1018.2,177.9 1018.2,181.5 1017.0,181.5" fill="#f9dc78" stroke="#e9c860" stroke-width="0.7"/>
<polygon points="1021.3,184.3 1023.8,184.0 1023.0,185.3 1021.4,185.2" fill="#f9dc78" stroke="#e9c860" stroke-width="0.7"/>
<polygon points="883.5,130.5 886.4,132.1 890.4,131.6 893.0,130.5 897.1,131.4 901.3,133.0 905.4,134.7 909.6,135.5 914.6,136.3 918.0,136.5 922.0,137.0 926.0,136.0 928.0,137.5 930.5,138.5 933.0,140.5 935.0,141.0 938.7,134.7 942.0,135.9 943.7,138.7 940.9,141.5 942.0,144.8 945.4,146.5 949.9,146.0 953.2,150.4 954.4,154.9 956.6,158.3 958.8,161.7 961.1,165.0 962.2,169.5 961.1,172.9 957.7,174.0 954.4,172.9 952.1,175.1 949.9,171.8 948.4,171.2 947.0,171.7 945.7,173.9 942.5,174.8 939.8,175.7 937.2,177.5 935.4,177.0 934.5,174.8 932.7,173.5 930.9,171.7 929.1,170.3 925.9,169.9 925.0,168.3 924.6,169.0 898.1,169.0 894.9,163.9 893.4,162.4 894.5,159.3 892.4,155.3 889.4,154.3 886.4,152.3 883.4,151.3" fill="#fde98b" stroke="#ecd577" stroke-width="0.7"/>
<polygon points="925.8,151.0 927.4,147.1 930.8,146.0 934.2,144.8 935.3,141.5 937.5,138.1 938.7,136.0 941.0,137.0 942.0,138.7 940.9,141.5 938.7,144.8 942.0,144.8 945.4,146.5 948.8,148.8 950.4,151.6 948.2,153.8 945.4,151.0 942.0,148.8 939.8,150.4 939.2,153.8 938.7,158.3 938.1,161.7 938.7,165.0 937.0,165.0 935.3,161.7 933.0,158.3 929.7,156.6 926.3,154.9" fill="#ffffff" stroke="#ecd577" stroke-width="0.7"/>
<polygon points="958.5,166.5 961.5,166.0 962.8,168.5 961.5,171.0 959.0,170.5" fill="#fde98b" stroke="#ecd577" stroke-width="0.7"/>
<polygon points="934.8,78.8 936.1,78.8 936.8,77.5 937.8,76.8 939.0,76.7 940.3,77.1 941.5,76.6 942.6,75.5 943.9,75.9 944.9,76.2 946.0,75.9 947.1,76.0 948.1,76.3 949.1,76.3 950.2,76.4 951.2,76.4 952.1,77.0 953.0,77.6 954.0,78.5 954.7,79.6 954.1,80.8 954.7,82.1 954.6,83.2 953.0,83.4 953.0,84.6 952.5,86.1 951.4,87.1 951.0,88.0 949.9,88.5 949.7,89.6 948.8,90.5 948.7,91.8 948.1,92.9 948.0,94.1 946.9,94.6 946.4,95.5 945.6,96.2 944.5,97.0 944.8,98.6 943.9,99.5 943.7,100.6 942.6,101.4 943.3,102.9 942.3,103.7 941.7,104.9 940.5,105.7 940.2,107.0 939.3,108.1 939.0,109.5 938.1,110.3 937.1,110.5 936.0,110.0 935.0,110.7 934.0,109.5 933.0,110.5 932.0,110.2 931.0,109.8 930.0,109.5 929.0,110.0 928.4,109.0 928.2,107.8 927.6,106.8 928.2,105.4 927.3,104.5 927.2,103.4 926.4,102.4 926.5,101.2 926.5,100.0 925.7,99.1 925.7,97.9 925.1,97.0 924.5,96.2 924.9,95.0 924.3,93.7 923.2,92.9 923.3,91.6 922.4,90.8 923.3,89.9 924.0,88.8 925.7,87.9 926.9,86.3 928.1,85.3 928.2,83.8 928.9,82.6 930.1,82.2 931.3,81.9 932.3,81.3 933.6,80.9 934.4,80.1" fill="#fbe480" stroke="#e8cd66" stroke-width="0.7"/>
<polygon points="919.5,94.0 920.6,94.9 921.5,96.0 922.1,96.9 922.0,98.0 920.5,98.5 919.7,97.3 919.0,96.0 919.2,95.0" fill="#fbe480" stroke="#e8cd66" stroke-width="0.7"/>
<polygon points="914.9,97.9 915.7,98.8 917.1,98.2 918.0,99.0 918.7,100.2 919.8,100.9 921.0,101.5 921.5,102.7 922.4,103.4 923.5,104.0 923.5,105.3 924.1,106.5 924.0,107.8 923.0,108.1 922.0,108.1 921.0,108.0 920.2,107.0 918.7,107.2 918.0,106.0 916.8,105.3 916.6,103.8 915.5,103.0 914.7,102.2 914.0,101.3 914.0,100.0 913.9,98.7" fill="#fbe480" stroke="#e8cd66" stroke-width="0.7"/>
<polygon points="907.4,102.0 908.5,101.9 909.5,101.4 910.7,102.1 911.6,101.2 911.5,102.8 912.5,104.0 911.1,104.7 910.8,106.2 910.0,106.8 909.1,107.4 908.1,107.7 907.0,107.5 906.4,106.3 905.8,105.0 906.6,104.1 906.8,103.0" fill="#fbe480" stroke="#e8cd66" stroke-width="0.7"/>
<polygon points="901.6,107.8 902.8,107.3 904.0,107.5 904.4,108.5 904.5,109.5 903.2,109.6 902.0,110.0 902.0,108.9" fill="#fbe480" stroke="#e8cd66" stroke-width="0.7"/>
<polygon points="899.3,111.3 900.2,110.6 900.9,109.8 901.3,108.8 901.3,107.5 902.4,106.9 903.5,106.8 904.0,105.7 905.1,105.5 905.8,104.8 906.8,104.5 907.8,105.2 909.1,104.8 910.0,105.5 911.1,105.3 912.1,105.5 913.1,105.5 913.9,106.7 915.0,106.3 916.1,106.9 917.3,107.0 918.4,107.6 919.4,108.2 920.6,108.5 921.3,107.6 922.1,106.9 923.2,106.9 924.3,106.8 925.1,106.1 926.3,106.1 926.9,105.0 928.1,104.3 929.4,104.6 930.7,104.5 931.3,105.5 932.1,106.1 932.8,106.8 934.0,107.0 935.4,107.1 936.2,108.1 937.0,109.0 938.5,109.3 939.5,110.5 940.3,111.6 940.2,113.0 939.1,113.6 939.1,114.7 938.2,115.4 938.2,116.6 937.0,117.0 935.6,116.6 934.5,117.3 933.2,117.5 932.0,117.8 930.7,117.6 929.4,117.2 928.2,117.0 926.9,117.6 925.6,117.9 924.5,117.1 923.2,117.0 922.0,116.6 920.6,116.9 919.4,116.3 918.1,115.9 916.9,115.1 915.8,116.0 914.5,116.3 913.1,116.3 912.3,116.9 911.2,116.8 910.2,117.1 909.3,117.6 907.9,117.6 906.6,117.4 905.6,116.3 904.5,116.1 903.6,115.3 902.4,115.6 901.4,115.0 900.5,114.4 899.7,113.5 900.1,112.2" fill="#fbe480" stroke="#e8cd66" stroke-width="0.7"/>
<polygon points="896.8,118.6 897.9,118.6 899.0,117.9 900.1,117.9 901.2,118.4 902.3,118.6 903.2,119.2 904.3,119.5 905.4,120.0 906.6,119.5 907.7,119.9 908.7,120.6 909.8,120.9 910.9,120.5 912.0,120.3 913.1,120.6 914.1,120.0 915.4,120.5 916.2,119.6 916.5,120.7 916.1,121.8 916.4,122.9 916.2,124.0 916.4,125.0 915.8,126.0 915.7,127.1 916.5,128.0 916.5,129.2 916.6,130.3 916.0,131.4 915.0,131.2 914.1,132.1 913.0,131.8 911.7,132.2 910.9,130.7 909.6,131.0 908.5,131.0 907.6,130.3 906.4,130.8 905.4,130.5 904.5,129.7 903.3,130.1 902.2,130.2 901.3,129.5 900.0,129.8 899.1,128.8 898.0,128.5 897.6,127.6 897.3,126.5 896.2,126.0 895.9,124.8 897.0,124.0 897.1,123.0 896.8,121.9 897.0,120.8 896.4,119.7" fill="#fbe480" stroke="#e8cd66" stroke-width="0.7"/>
<polygon points="918.0,120.2 919.0,119.8 920.0,120.0 921.1,120.5 922.0,119.8 923.1,119.4 924.0,120.0 924.9,120.6 926.0,120.3 925.5,121.6 926.8,122.7 926.5,124.0 926.9,125.1 925.6,125.9 925.5,126.9 926.0,128.0 926.2,129.0 927.0,129.9 926.0,131.1 926.8,132.0 926.3,132.9 925.1,133.3 925.0,134.5 924.0,134.2 923.1,133.8 921.9,134.6 921.0,134.0 920.4,132.9 919.1,132.6 918.5,131.5 918.2,130.4 918.7,129.2 918.6,128.1 918.0,127.0 917.5,125.9 917.5,124.7 917.8,123.5 917.7,122.4 918.0,121.3" fill="#fbe480" stroke="#e8cd66" stroke-width="0.7"/>
<polygon points="930.0,119.6 931.1,119.3 932.2,118.9 933.3,118.9 934.5,119.2 935.4,120.0 936.2,120.7 937.8,120.2 938.5,121.3 939.3,122.2 939.9,123.2 941.4,123.2 941.4,124.8 942.6,125.3 943.8,125.7 944.1,127.0 945.0,127.7 945.7,128.6 946.6,129.3 947.4,130.0 947.9,130.9 948.3,131.8 949.1,132.5 949.6,133.4 949.9,134.5 950.6,135.4 951.0,136.5 952.1,136.7 953.2,137.0 954.2,137.9 953.8,139.3 954.4,140.3 953.6,141.1 953.1,142.1 952.1,142.6 951.0,142.6 950.1,143.0 949.3,143.7 948.3,143.4 947.3,143.4 946.5,142.6 945.6,141.6 944.4,140.9 944.0,139.5 942.7,139.3 941.9,138.2 941.0,137.5 939.7,137.3 939.0,136.2 938.0,135.5 937.0,135.0 935.7,135.1 935.1,133.8 934.0,133.5 932.9,133.0 933.0,131.6 932.4,130.6 931.5,130.0 931.3,128.9 930.4,127.9 930.8,126.6 930.5,125.5 930.0,124.4 930.4,123.0 929.5,122.0 929.3,120.7" fill="#fbe480" stroke="#e8cd66" stroke-width="0.7"/>
<polygon points="865.2,129.1 869.2,127.0 874.3,128.6 878.3,130.1 883.4,130.9 883.4,151.3 886.4,152.3 889.4,154.3 891.4,156.8 893.4,159.8 892.4,161.4 890.4,160.3 888.4,157.8 886.4,155.3 884.4,153.3 881.8,151.8 878.8,151.3 875.3,152.3 873.3,154.3 871.2,156.3 868.2,158.3 865.2,160.3 861.7,162.4 859.1,163.4 858.6,162.4 861.7,160.8 865.2,158.3 868.2,155.8 869.2,154.3 866.2,152.3 862.2,152.8 860.1,151.8 860.6,149.2 861.7,146.7 860.1,144.7 861.2,143.7 863.2,142.2 860.1,141.2 858.6,140.2 860.6,138.7 862.7,138.1 860.1,136.6 859.6,134.6 861.7,133.1 863.7,131.1" fill="#f14b00" stroke="#e84800" stroke-width="0.7"/>
<polygon points="855.1,145.2 858.6,146.0 858.1,146.9 855.1,146.4" fill="#f14b00" stroke="#e84800" stroke-width="0.7"/>
<polygon points="850.0,165.0 851.5,164.8 851.4,165.8 850.0,165.9" fill="#f14b00" stroke="#e84800" stroke-width="0.7"/>
<polygon points="852.5,164.6 854.0,164.4 854.0,165.3 852.5,165.4" fill="#f14b00" stroke="#e84800" stroke-width="0.7"/>
<polygon points="1164.2,163.4 1165.3,163.4 1165.3,164.4 1164.2,164.4" fill="#f14b00" stroke="#e84800" stroke-width="0.7"/>
<polygon points="866.0,198.5 867.3,199.0 866.8,199.8" fill="#f14b00" stroke="#e84800" stroke-width="0.7"/>
<polygon points="868.6,200.5 870.3,201.0 870.2,202.6 868.8,202.2" fill="#f14b00" stroke="#e84800" stroke-width="0.7"/>
<polygon points="898.1,169.0 924.6,169.0 925.0,168.3 925.9,169.9 929.1,170.3 930.9,171.7 932.7,173.5 934.5,174.8 935.4,177.0 937.2,177.5 939.8,175.7 942.5,174.8 945.7,173.9 947.0,171.7 948.4,171.2 949.3,173.5 947.9,175.7 946.1,177.9 944.8,178.8 943.4,181.5 942.5,184.2 941.2,186.5 938.9,188.7 937.2,190.5 936.7,192.3 937.6,195.0 937.2,196.8 935.8,195.4 935.4,193.2 934.5,191.4 932.7,190.9 930.9,190.9 928.2,191.8 925.5,191.8 923.7,193.2 922.4,194.5 922.2,196.1 920.8,195.4 919.5,193.4 916.8,192.7 914.8,191.0 910.1,190.7 908.1,190.3 904.7,189.7 902.2,186.9 900.4,184.7 899.0,182.0 898.4,179.3 897.9,176.1 897.7,172.6" fill="#f14b00" stroke="#e84800" stroke-width="0.7"/>
<polygon points="1036.2,176.5 1038.5,174.1 1042.5,174.1 1045.6,175.7 1046.4,178.0 1044.0,179.6 1040.1,179.6 1037.0,178.8" fill="#fff" stroke="#d9d9d9" stroke-width="0.6"/>
<polygon points="1053.4,175.7 1055.0,174.1 1055.8,178.0 1057.4,182.0 1055.8,183.5 1053.8,181.2 1053.1,178.8" fill="#fff" stroke="#d9d9d9" stroke-width="0.6"/>
</svg>
<div class="t" style="left:847px;top:284px;font-size:11px;line-height:13px;color:#000;font-family:'Liberation Sans',Arial,sans-serif">222</div>
<div class="a" style="left:871px;top:286px;width:55px;height:10px;background:linear-gradient(to right,#ffe88a,#f4a64a 50%,#f04b00)"></div>
<div class="t" style="left:932px;top:284px;font-size:11px;line-height:13px;color:#000">2,796</div>
<svg class="a" style="left:842px;top:350px" width="26" height="26" viewBox="0 0 26 26"><rect width="26" height="26" fill="#f3f6f8"/><g transform="translate(1,5)"><rect width="24" height="17" fill="#fff"/><g fill="#f01919"><rect y="0" width="24" height="1.3"/><rect y="2.6" width="24" height="1.3"/><rect y="5.2" width="24" height="1.3"/><rect y="7.8" width="24" height="1.3"/><rect y="10.4" width="24" height="1.3"/><rect y="13" width="24" height="1.3"/><rect y="15.6" width="24" height="1.4"/></g><rect width="12" height="9" fill="#2b2e9a"/></g></svg>
<svg class="a" style="left:842px;top:382px" width="26" height="26" viewBox="0 0 26 26"><rect width="26" height="26" fill="#f3f6f8"/><g transform="translate(1,5)"><rect width="24" height="17" fill="#1f3c96"/><path d="M0 0L24 17M24 0L0 17" stroke="#fff" stroke-width="3.2"/><path d="M0 0L24 17M24 0L0 17" stroke="#d61920" stroke-width="1.1"/><path d="M12 0V17M0 8.5H24" stroke="#fff" stroke-width="5"/><path d="M12 0V17M0 8.5H24" stroke="#d40f14" stroke-width="2.6"/></g></svg>
<svg class="a" style="left:842px;top:414px" width="26" height="26" viewBox="0 0 26 26"><rect width="26" height="26" fill="#f3f6f8"/><g transform="translate(1,5)"><rect width="24" height="5.7" fill="#ff9933"/><rect y="5.7" width="24" height="5.6" fill="#fff"/><rect y="11.3" width="24" height="5.7" fill="#138808"/><circle cx="12" cy="8.5" r="2.3" fill="#8a8ad0"/><circle cx="12" cy="8.5" r="1" fill="#3a3aa0"/></g></svg>
<div class="t" style="left:842px;top:324px;font-size:14px;font-weight:bold;color:#87a6bc">Country</div>
<div class="t" style="right:28px;top:324px;font-size:14px;font-weight:bold;color:#87a6bc;letter-spacing:-0.45px">Views</div>
<div class="t cn" style="left:878px;top:355px">United States</div>
<div class="t cv" style="top:355px">2,796</div>
<div class="t cn" style="left:878px;top:387px">United Kingdom</div>
<div class="t cv" style="top:387px">435</div>
<div class="t cn" style="left:878px;top:419px">India</div>
<div class="t cv" style="top:419px">341</div>
</body></html>
